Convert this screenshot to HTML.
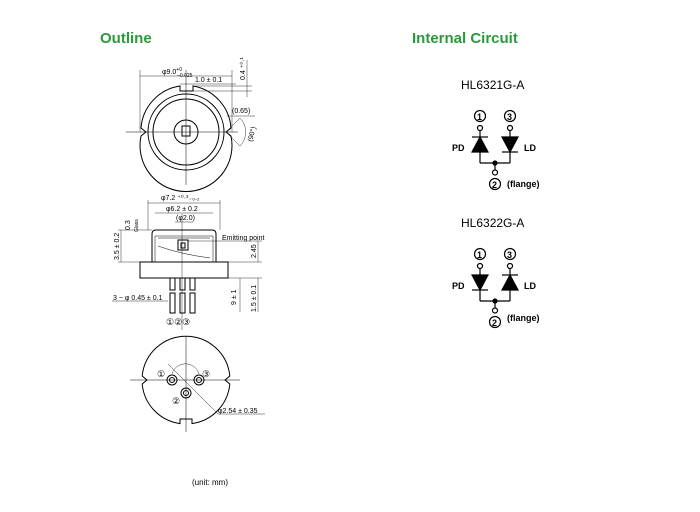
<!DOCTYPE html>
<html><head><meta charset="utf-8"><style>
body{margin:0;background:#fff;}
svg{display:block;font-family:"Liberation Sans",Arial,sans-serif;}
.t{font-size:7px;fill:#000}
</style></head><body>
<svg width="700" height="512" viewBox="0 0 700 512" xmlns="http://www.w3.org/2000/svg">
<text x="100" y="43" font-size="15" font-weight="bold" fill="#2a9a3a">Outline</text>
<text x="412" y="43" font-size="15" font-weight="bold" fill="#2a9a3a">Internal Circuit</text>

<g stroke="#000" fill="none" stroke-width="1">
<!-- top view -->
<path d="M141 136 A46 46 0 1 0 231 136 L226 132 L231 128 A46 46 0 0 0 193 86 L193 91 L180 91 L180 86 A46 46 0 0 0 141 128 L146 132 Z"/>
<circle cx="186" cy="132" r="38"/>
<circle cx="186" cy="132" r="33"/>
<circle cx="186" cy="132" r="12"/>
<rect x="182" y="126" width="8" height="10"/>
<line x1="126" y1="132" x2="238" y2="132" stroke-width="0.5"/>
<line x1="186" y1="70" x2="186" y2="185" stroke-width="0.5"/>
<line x1="140" y1="70" x2="140" y2="132" stroke-width="0.4"/>
<line x1="232" y1="70" x2="232" y2="132" stroke-width="0.4"/>
<line x1="140" y1="76" x2="232" y2="76" stroke-width="0.4"/>
<line x1="180" y1="84" x2="236" y2="84" stroke-width="0.4"/>
<line x1="193" y1="91" x2="252" y2="91" stroke-width="0.4"/>
<line x1="193" y1="86" x2="252" y2="86" stroke-width="0.4"/>
<line x1="247" y1="60" x2="247" y2="97" stroke-width="0.4"/>
<line x1="227" y1="116" x2="255" y2="116" stroke-width="0.4"/>
<line x1="226" y1="132" x2="240" y2="118" stroke-width="0.4"/>
<line x1="226" y1="132" x2="240" y2="146" stroke-width="0.4"/>
<path d="M240 118 A20 20 0 0 1 240 146" stroke-width="0.4"/>
<!-- side view -->
<path d="M152 262 L152 234 Q152 230 156 230 L212 230 Q216 230 216 234 L216 262"/>
<path d="M155 262 L155 236 L213 236 L213 262" stroke-width="0.5"/>
<path d="M158 238 L210 238 M158 246 Q180 254 210 258" stroke-width="0.5"/>
<rect x="178" y="240" width="10" height="10"/>
<rect x="181" y="243" width="4" height="5"/>
<rect x="140" y="262" width="88" height="16"/>
<rect x="170" y="278" width="5" height="12"/><rect x="180" y="278" width="5" height="12"/><rect x="190" y="278" width="5" height="12"/>
<rect x="170" y="293" width="5" height="20"/><rect x="180" y="293" width="5" height="20"/><rect x="190" y="293" width="5" height="20"/>
<line x1="182" y1="214" x2="182" y2="330" stroke-width="0.4"/>
<line x1="148" y1="200" x2="148" y2="230" stroke-width="0.4"/><line x1="220" y1="200" x2="220" y2="230" stroke-width="0.4"/>
<line x1="148" y1="203" x2="220" y2="203" stroke-width="0.4"/>
<line x1="155" y1="213" x2="213" y2="213" stroke-width="0.4"/>
<line x1="175" y1="222" x2="193" y2="222" stroke-width="0.4"/>
<line x1="118" y1="230" x2="152" y2="230" stroke-width="0.4"/>
<line x1="118" y1="262" x2="140" y2="262" stroke-width="0.4"/>
<line x1="121" y1="230" x2="121" y2="262" stroke-width="0.4"/>
<line x1="188" y1="241" x2="262" y2="241" stroke-width="0.4"/>
<line x1="258" y1="241" x2="258" y2="262" stroke-width="0.4"/>
<line x1="228" y1="262" x2="262" y2="262" stroke-width="0.4"/>
<line x1="200" y1="278" x2="262" y2="278" stroke-width="0.4"/>
<line x1="240" y1="278" x2="240" y2="312" stroke-width="0.4"/>
<line x1="258" y1="278" x2="258" y2="312" stroke-width="0.4"/>
<line x1="112" y1="301" x2="168" y2="301" stroke-width="0.4"/>
<!-- bottom view -->
<path d="M142.2 376 A44 44 0 0 1 229.8 376 L225 380 L229.8 384 A44 44 0 0 1 192 423.6 L192 419 L180 419 L180 423.6 A44 44 0 0 1 142.2 384 L147 380 Z"/>
<line x1="130" y1="380" x2="240" y2="380" stroke-width="0.5"/>
<line x1="186" y1="336" x2="186" y2="432" stroke-width="0.5"/>
<circle cx="172" cy="380" r="5"/><circle cx="172" cy="380" r="2.5"/>
<circle cx="199" cy="380" r="5"/><circle cx="199" cy="380" r="2.5"/>
<circle cx="186" cy="393" r="5"/><circle cx="186" cy="393" r="2.5"/>
<path d="M172 374 A14 14 0 0 1 199 374" stroke-width="0.4"/>
<line x1="168" y1="364" x2="218" y2="414" stroke-width="0.4"/>
<line x1="218" y1="414" x2="265" y2="414" stroke-width="0.4"/>
</g>
<g class="t">
<text x="162" y="74" font-size="7">φ9.0<tspan font-size="5" dy="-3">+0</tspan><tspan font-size="5" dx="-5" dy="6">−0.025</tspan></text>
<text x="195" y="82">1.0 ± 0.1</text>
<text x="245" y="80" transform="rotate(-90 245 80)">0.4 ⁺⁰·¹</text>
<text x="232" y="113">(0.65)</text>
<text x="252" y="142" transform="rotate(-75 252 142)">(90°)</text>
<text x="161" y="200">φ7.2 ⁺⁰·³₋₀.₂</text>
<text x="166" y="211">φ6.2 ± 0.2</text>
<text x="176" y="220">(φ2.0)</text>
<text x="130" y="230" transform="rotate(-90 130 230)">0.3</text>
<text x="138" y="232" font-size="5" transform="rotate(-90 138 232)">Glass</text>
<text x="119" y="260" transform="rotate(-90 119 260)">3.5 ± 0.2</text>
<text x="222" y="240">Emitting point</text>
<text x="256" y="258" transform="rotate(-90 256 258)">2.45</text>
<text x="236" y="305" transform="rotate(-90 236 305)">9 ± 1</text>
<text x="256" y="312" transform="rotate(-90 256 312)">1.5 ± 0.1</text>
<text x="113" y="300">3 − φ 0.45 ± 0.1</text>
<text x="166" y="325" font-size="9">①②③</text>
<text x="157" y="377" font-size="9">①</text>
<text x="202" y="377" font-size="9">③</text>
<text x="172" y="404" font-size="9">②</text>
<text x="218" y="413">φ2.54 ± 0.35</text>
<text x="192" y="485" font-size="8">(unit: mm)</text>
</g>

<text x="461" y="89" font-size="12">HL6321G-A</text>
<g stroke="#000" stroke-width="1.2" fill="none">
<g>
<circle cx="480" cy="116" r="5.5"/><circle cx="510" cy="116" r="5.5"/>
<circle cx="480" cy="128" r="2.5"/><circle cx="510" cy="128" r="2.5"/>
<line x1="480" y1="130" x2="480" y2="163"/><line x1="510" y1="130" x2="510" y2="163"/>
<line x1="480" y1="163" x2="510" y2="163"/><line x1="495" y1="163" x2="495" y2="170"/>
<circle cx="495" cy="172.5" r="2.5"/><circle cx="495" cy="184" r="5.5"/>
<line x1="472" y1="137" x2="488" y2="137"/><polygon points="480,137 472,152 488,152" fill="#000"/>
<line x1="502" y1="152" x2="518" y2="152"/><polygon points="510,152 502,137 518,137" fill="#000"/>
<circle cx="495" cy="163" r="2" fill="#000"/>
</g>
<g transform="translate(0 138)">
<circle cx="480" cy="116" r="5.5"/><circle cx="510" cy="116" r="5.5"/>
<circle cx="480" cy="128" r="2.5"/><circle cx="510" cy="128" r="2.5"/>
<line x1="480" y1="130" x2="480" y2="163"/><line x1="510" y1="130" x2="510" y2="163"/>
<line x1="480" y1="163" x2="510" y2="163"/><line x1="495" y1="163" x2="495" y2="170"/>
<circle cx="495" cy="172.5" r="2.5"/><circle cx="495" cy="184" r="5.5"/>
<line x1="472" y1="152" x2="488" y2="152"/><polygon points="480,152 472,137 488,137" fill="#000"/>
<line x1="502" y1="137" x2="518" y2="137"/><polygon points="510,137 502,152 518,152" fill="#000"/>
<circle cx="495" cy="163" r="2" fill="#000"/>
</g>
</g>
<g font-weight="bold" fill="#000">
<text x="477" y="120" font-size="9">1</text><text x="507" y="120" font-size="9">3</text><text x="492" y="188" font-size="9">2</text>
<text x="452" y="151" font-size="9">PD</text><text x="524" y="151" font-size="9">LD</text>
<text x="507" y="187" font-size="9">(flange)</text>
<g transform="translate(0 138)">
<text x="477" y="120" font-size="9">1</text><text x="507" y="120" font-size="9">3</text><text x="492" y="188" font-size="9">2</text>
<text x="452" y="151" font-size="9">PD</text><text x="524" y="151" font-size="9">LD</text>
<text x="507" y="183" font-size="9">(flange)</text>
</g>
</g>
<text x="461" y="227" font-size="12">HL6322G-A</text>
</svg>
</body></html>
